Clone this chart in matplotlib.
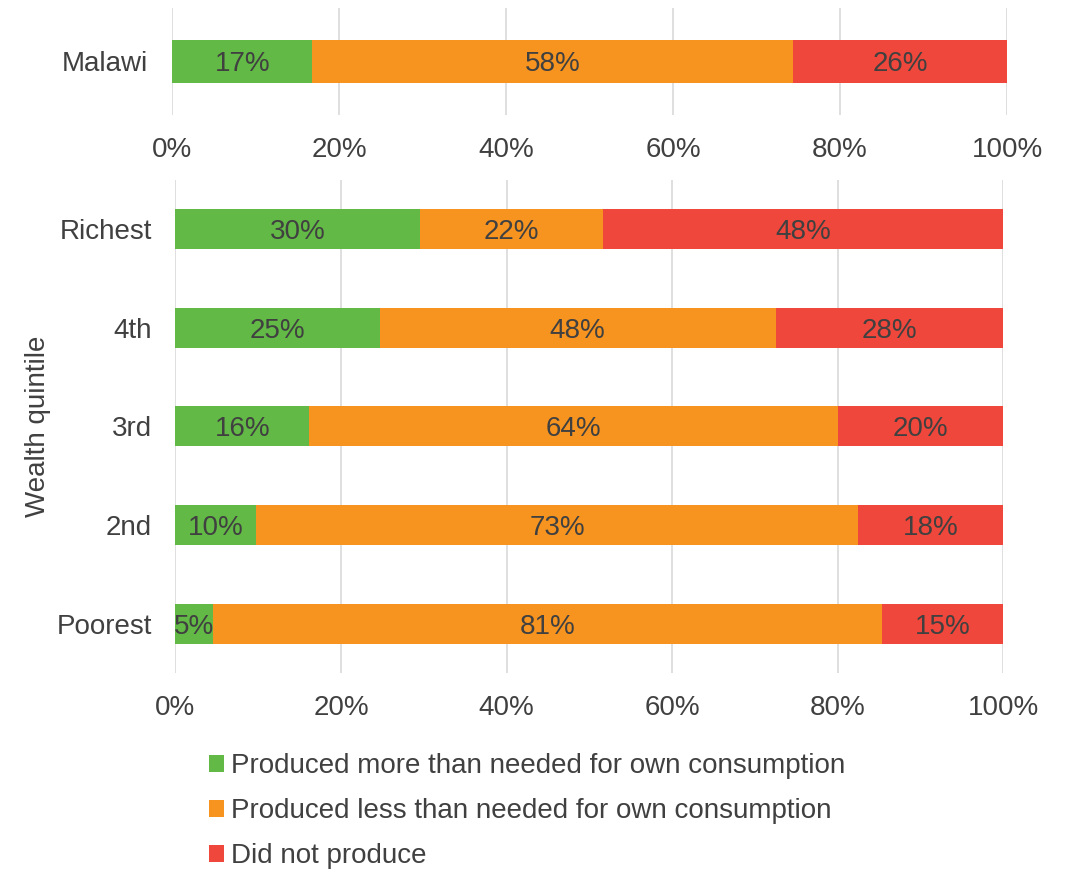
import matplotlib.pyplot as plt
import numpy as np

plt.rcParams['font.family'] = ['Liberation Sans', 'DejaVu Sans']

# data (percent shares)
series_names = ['Produced more than needed for own consumption',
                'Produced less than needed for own consumption',
                'Did not produce']
colors = ['#62B946', '#F79420', '#EF473B']

national_label = ['Malawi']
national_more = [16.8]
national_less = [57.6]
national_none = [25.6]

quintiles = ['Poorest', '2nd', '3rd', '4th', 'Richest']
q_more = [4.6, 9.8, 16.2, 24.7, 29.6]
q_less = [80.8, 72.6, 63.8, 47.8, 22.0]
q_none = [14.6, 17.6, 20.0, 27.5, 48.4]

xticks = [0, 20, 40, 60, 80, 100]
xticklabels = ['0%', '20%', '40%', '60%', '80%', '100%']

txt = '#404040'
fs = 20

fig = plt.figure(figsize=(10.66, 8.69), dpi=100)
ax1 = fig.add_axes([0.1614, 0.8677, 0.7833, 0.1231])
ax2 = fig.add_axes([0.1645, 0.2256, 0.7767, 0.5673])


def stacked(ax, cats, parts, height):
    y = np.arange(len(cats))
    left = np.zeros(len(cats))
    bars = []
    for vals, col, name in zip(parts, colors, series_names):
        b = ax.barh(y, vals, left=left, height=height, color=col, label=name, zorder=3)
        for yi, l, v in zip(y, left, vals):
            ax.text(l + v / 2, yi, f'{v:.0f}%', ha='center', va='center_baseline',
                    fontsize=fs, color=txt, zorder=4)
        left = left + np.array(vals)
        bars.append(b)
    ax.set_yticks(y)
    ax.set_yticklabels(cats)
    ax.set_ylim(-0.5, len(cats) - 0.5)
    ax.set_xlim(0, 100)
    ax.set_xticks(xticks)
    ax.set_xticklabels(xticklabels)
    ax.tick_params(length=0, labelsize=fs, colors=txt)
    ax.tick_params(axis='x', pad=16)
    ax.tick_params(axis='y', pad=17)
    ax.grid(axis='x', color='#D9D9D9', linewidth=1.2, zorder=0)
    for s in ax.spines.values():
        s.set_visible(False)
    return bars


stacked(ax1, national_label, [national_more, national_less, national_none], 0.4)
bars = stacked(ax2, quintiles, [q_more, q_less, q_none], 0.405)
ax2.set_ylabel('Wealth quintile', fontsize=fs, color=txt, labelpad=4)

fig.legend(handles=bars, loc='upper left', bbox_to_anchor=(0.1956, 0.133),
           frameon=False, fontsize=fs, labelcolor=txt,
           handlelength=0.55, handleheight=0.55, handletextpad=0.25,
           labelspacing=0.68, borderpad=0, borderaxespad=0)

fig.savefig('out.png', dpi=100)
